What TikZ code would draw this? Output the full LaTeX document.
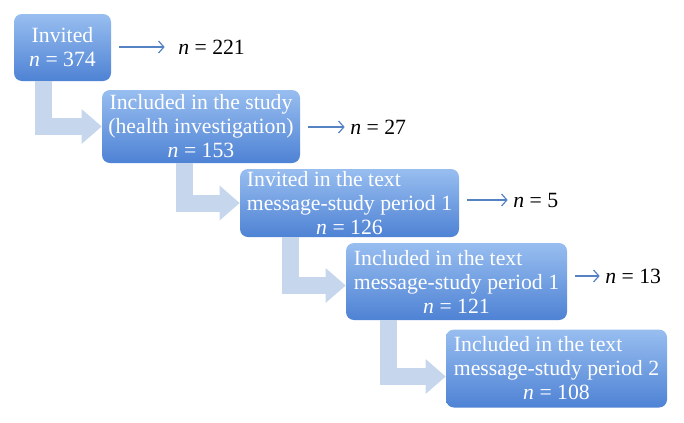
\documentclass[tikz,border=0pt]{standalone}
\usepackage{fontspec}
\usepackage{calc}
\setmainfont{Liberation Serif}
\usetikzlibrary{arrows.meta}
\definecolor{stagetop}{RGB}{152,190,240}
\definecolor{stagebot}{RGB}{78,130,212}
\definecolor{bendblue}{RGB}{198,214,236}
\definecolor{lossblue}{RGB}{84,130,194}

% first line flush left under the width of the second
\newcommand{\leftrow}[2]{\makebox[\widthof{#2}][l]{#1}\\#2}

\tikzset{
  stage/.style={rounded corners=6pt, top color=stagetop, bottom color=stagebot,
    draw=none, text=white, align=center, inner sep=0pt,
    font=\fontsize{16.3}{18}\selectfont},
  dropout/.style={anchor=west, inner sep=0pt, font=\fontsize{16.3}{18}\selectfont},
  flowbend/.style={draw=bendblue, line width=12.75pt, line join=miter,
    -{Triangle[length=15pt,width=25pt]}},
  outarr/.style={draw=lossblue, line width=0.9pt, shorten <=6pt, shorten >=4pt,
    -{Straight Barb[length=4pt,width=9pt]}}
}

\begin{document}
\begin{tikzpicture}[x=0.75pt,y=0.75pt,yscale=-1,xscale=1]
\useasboundingbox (0,0) rectangle (684,422);

% Stage nodes
\node[stage, minimum width=72.75pt, minimum height=50.25pt] (b1) at (62.5,47.5) {Invited\\\textit{n} = 374};
\node[stage, minimum width=148.5pt, minimum height=54.75pt] (b2) at (201,126.5) {Included in the study\\(health investigation)\\\textit{n} = 153};
\node[stage, minimum width=164.25pt, minimum height=51pt] (b3) at (349.5,203) {\leftrow{Invited in the text}{message-study period 1}\\\textit{n} = 126};
\node[stage, minimum width=165.75pt, minimum height=57.75pt] (b4) at (456.5,281.5) {\leftrow{Included in the text}{message-study period 1}\\\textit{n} = 121};
\node[stage, minimum width=165.75pt, minimum height=58.5pt] (b5) at (556.5,368.5) {\leftrow{Included in the text}{message-study period 2}\\\textit{n} = 108};

% Drop-out counts
\node[dropout] (r1) at (178,47) {\textit{n} = 221};
\node[dropout] (r2) at (350,127) {\textit{n} = 27};
\node[dropout] (r3) at (513,200) {\textit{n} = 5};
\node[dropout] (r4) at (605,276) {\textit{n} = 13};

% Bent arrows between stages
\draw[flowbend] ([xshift=22pt]b1.south west) |- (b2.west);
\draw[flowbend] ([xshift=62pt]b2.south west) |- (b3.west);
\draw[flowbend] ([xshift=38pt]b3.south west) |- ([yshift=3pt]b4.west);
\draw[flowbend] ([xshift=32pt]b4.south west) |- ([yshift=6pt]b5.west);

% Drop-out arrows
\draw[outarr, shorten >=10pt] (b1.east |- r1.west) -- (r1.west);
\draw[outarr] (b2.east |- r2.west) -- (r2.west);
\draw[outarr] (b3.east |- r3.west) -- (r3.west);
\draw[outarr] (b4.east |- r4.west) -- (r4.west);

\end{tikzpicture}
\end{document}
